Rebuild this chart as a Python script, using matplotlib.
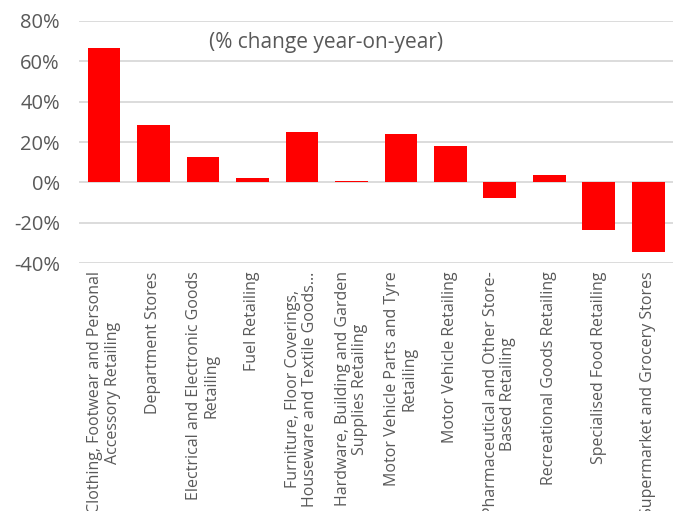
import matplotlib
matplotlib.use("Agg")
import matplotlib.pyplot as plt
from matplotlib.ticker import FuncFormatter

# retail categories and their year-on-year change (%)
categories = [
    "Clothing, Footwear and Personal\nAccessory Retailing",
    "Department Stores",
    "Electrical and Electronic Goods\nRetailing",
    "Fuel Retailing",
    "Furniture, Floor Coverings,\nHouseware and Textile Goods...",
    "Hardware, Building and Garden\nSupplies Retailing",
    "Motor Vehicle Parts and Tyre\nRetailing",
    "Motor Vehicle Retailing",
    "Pharmaceutical and Other Store-\nBased Retailing",
    "Recreational Goods Retailing",
    "Specialised Food Retailing",
    "Supermarket and Grocery Stores",
]
change = [66.6, 28.4, 12.4, 2.0, 25.2, 0.8, 24.0, 17.9, -7.8, 3.5, -23.5, -34.6]
yticks = [-40, -20, 0, 20, 40, 60, 80]

plt.rcParams['font.family'] = ['Open Sans', 'DejaVu Sans']
grey = "#595959"

fig = plt.figure(figsize=(6.74, 5.11), dpi=100)
ax = fig.add_axes([0.1175, 0.485, 0.881, 0.474])

x = list(range(len(categories)))
ax.bar(x, change, width=0.66, color="#FF0000", zorder=3)

ax.set_xlim(-0.5, len(categories) - 0.5)
ax.set_ylim(-40, 80)
ax.set_yticks(yticks)
ax.yaxis.set_major_formatter(FuncFormatter(lambda v, p: f"{v:.0f}%"))
ax.grid(axis="y", color="#D9D9D9", linewidth=1.3, zorder=0)
for s in ax.spines.values():
    s.set_visible(False)

ax.tick_params(axis="y", length=0, labelsize=14.5, labelcolor=grey, pad=14)
ax.tick_params(axis="x", length=0, pad=6)
ax.set_xticks(x)
ax.set_xticklabels(categories, rotation=90, fontsize=11.5, color=grey,
                   ha="center", va="top", multialignment="center",
                   linespacing=1.1)

ax.text(0.416, 0.91, "(% change year-on-year)", transform=ax.transAxes,
        ha="center", va="center", fontsize=15, color=grey)

fig.savefig("out.png", dpi=100)
